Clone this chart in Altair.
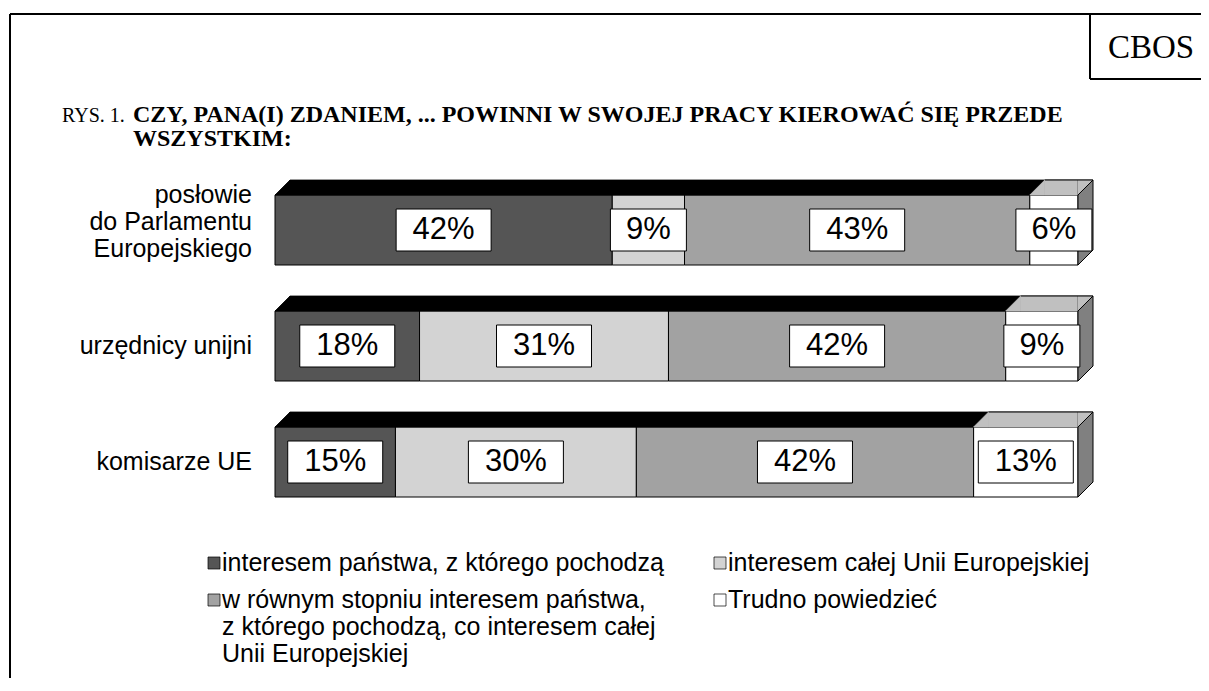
import altair as alt
import pandas as pd

# ---------------- data ----------------
categories = ["posłowie do Parlamentu Europejskiego", "urzędnicy unijni", "komisarze UE"]
category_lines = ["posłowie\ndo Parlamentu\nEuropejskiego", "urzędnicy unijni", "komisarze UE"]

series = [
    "interesem państwa, z którego pochodzą",
    "interesem całej Unii Europejskiej",
    "w równym stopniu interesem państwa, z którego pochodzą, co interesem całej Unii Europejskiej",
    "Trudno powiedzieć",
]
series_lines = [
    "interesem państwa, z którego pochodzą",
    "interesem całej Unii Europejskiej",
    "w równym stopniu interesem państwa,\nz którego pochodzą, co interesem całej\nUnii Europejskiej",
    "Trudno powiedzieć",
]

v_panstwa = [42, 18, 15]
v_unii = [9, 31, 30]
v_rowno = [43, 42, 42]
v_trudno = [6, 9, 13]

title_prefix = "RYS. 1."
title_lines = ["CZY, PANA(I) ZDANIEM, ... POWINNI W SWOJEJ PRACY KIEROWAĆ SIĘ PRZEDE", "WSZYSTKIM:"]
source = "CBOS"

# ---------------- styles ----------------
front_fill = ["#555555", "#d3d3d3", "#a2a2a2", "#ffffff"]
top_fill = ["#000000", "#000000", "#000000", "#c0c0c0"]
SANS = "Liberation Sans"
SERIF = "Liberation Serif"
CAT_LH = 27

values = [v_panstwa, v_unii, v_rowno, v_trudno]
rows = []
for ci, cat in enumerate(categories):
    start = 0
    for si, s in enumerate(series):
        v = values[si][ci]
        rows.append(dict(cat=cat, catlab=category_lines[ci], nlines=category_lines[ci].count("\n") + 1,
                         series=s, si=si, value=v, start=start, end=start + v,
                         mid=start + v / 2, label=f"{v}%", top=top_fill[si]))
        start += v
df = pd.DataFrame(rows)

# top faces: one black face over the whole bar, then the grey face of the last segment
top_rows = []
for ci, cat in enumerate(categories):
    total = sum(values[si][ci] for si in range(len(series)))
    top_rows.append(dict(cat=cat, start=0, end=total, top=top_fill[0]))
    last_v = values[-1][ci]
    top_rows.append(dict(cat=cat, start=total - last_v, end=total, top=top_fill[-1]))
tdf = pd.DataFrame(top_rows)

xscale = alt.Scale(domain=[0, 100], range=[267, 1070], nice=False, zero=False)
yscale = alt.Scale(domain=categories, range=[164, 512], paddingInner=0, paddingOuter=0)
Y = alt.Y("cat:N", scale=yscale, axis=None)
X = lambda f: alt.X(f, type="quantitative", scale=xscale, axis=None)

base = alt.Chart(df).encode(y=Y)
tbase = alt.Chart(tdf).encode(y=Y)

front = base.mark_bar(height=70, stroke="black", strokeWidth=1).encode(
    x=X("start"), x2="end",
    color=alt.Color("series:N", scale=alt.Scale(domain=series, range=front_fill), legend=None),
)

top_rect = tbase.mark_bar(height=15, yOffset=-42.5, xOffset=15, strokeWidth=0.8).encode(
    x=X("start"), x2="end",
    color=alt.Color("top:N", scale=None),
    stroke=alt.Stroke("top:N", scale=None),
)
tri_l = tbase.mark_point(shape="M-1,1L1,1L1,-1Z", size=225, filled=True, opacity=1,
                         strokeWidth=0.8, xOffset=7.5, yOffset=-42.5).encode(
    x=X("start"), color=alt.Color("top:N", scale=None), stroke=alt.Stroke("top:N", scale=None))
tri_r = tbase.mark_point(shape="M-1,1L-1,-1L1,-1Z", size=225, filled=True, opacity=1,
                         strokeWidth=0.8, xOffset=7.5, yOffset=-42.5).encode(
    x=X("end"), color=alt.Color("top:N", scale=None), stroke=alt.Stroke("top:N", scale=None))

last = base.transform_filter(alt.datum.si == len(series) - 1)
side = last.mark_point(
    shape="M-0.1765,-0.6471L0.1765,-1L0.1765,0.6471L-0.1765,1Z", size=7225,
    filled=True, opacity=1, fill="#808080", stroke="black", strokeWidth=1,
    xOffset=7.5, yOffset=-7.5).encode(x=X("end"))
top_edge = last.mark_rule(color="black", strokeWidth=1, xOffset=15, x2Offset=15, yOffset=-50).encode(
    x=X("start"), x2="end")

box3 = base.transform_filter("length(datum.label) == 3").mark_bar(
    height=42, xOffset=-47.5, x2Offset=47.5, fill="white", stroke="black", strokeWidth=1
).encode(x=X("mid"), x2="mid")
box2 = base.transform_filter("length(datum.label) == 2").mark_bar(
    height=42, xOffset=-38, x2Offset=38, fill="white", stroke="black", strokeWidth=1
).encode(x=X("mid"), x2="mid")
pct = base.mark_text(font=SANS, fontSize=31, color="black").encode(x=X("mid"), text="label:N")

# category labels: one layer per line count, shifted so the text block is centred on the bar
cat_layers = []
for n in sorted(set(df["nlines"])):
    shift = -(n - 1) * CAT_LH / 2 - (8 if n > 1 else 0)
    cat_layers.append(
        base.transform_filter((alt.datum.si == 0) & (alt.datum.nlines == n)).mark_text(
            font=SANS, fontSize=25, align="right", baseline="middle", lineBreak="\n",
            lineHeight=CAT_LH, dy=shift, color="black").encode(x=alt.value(244), text="catlab:N"))

# ---------------- legend (custom) ----------------
leg_sq = [(206, 555), (712, 555), (206, 592), (712, 592)]
leg_tx = [(214, 563), (720, 563), (214, 600), (720, 600)]
leg = pd.DataFrame(dict(
    label=series_lines, fill=front_fill,
    sx=[p[0] for p in leg_sq], sy=[p[1] for p in leg_sq],
    tx=[p[0] for p in leg_tx], ty=[p[1] for p in leg_tx],
))
leg_sym = alt.Chart(leg).mark_point(shape="square", size=144, filled=True, opacity=1,
                                    stroke="black", strokeWidth=0.7).encode(
    x=alt.X("sx:Q", scale=None), y=alt.Y("sy:Q", scale=None),
    color=alt.Color("fill:N", scale=None))
leg_txt = alt.Chart(leg).mark_text(font=SANS, fontSize=25, align="left", baseline="alphabetic",
                                   lineBreak="\n", lineHeight=27, color="black").encode(
    x=alt.X("tx:Q", scale=None), y=alt.Y("ty:Q", scale=None), text="label:N")

# ---------------- frame & titles ----------------
frame = pd.DataFrame(dict(x=[2, 2, 1082, 1082], x2=[2, 1200, 1082, 1200],
                          y=[6, 6, 6, 71], y2=[680, 6, 71, 71]))
frame_rules = alt.Chart(frame).mark_rule(color="black", strokeWidth=2).encode(
    x=alt.X("x:Q", scale=None), x2="x2:Q", y=alt.Y("y:Q", scale=None), y2="y2:Q")

cbos = alt.Chart(pd.DataFrame({"t": [source]})).mark_text(
    font=SERIF, fontSize=33, align="center", baseline="middle", color="black").encode(
    x=alt.value(1143), y=alt.value(40), text="t:N")
rys = alt.Chart(pd.DataFrame({"t": [title_prefix]})).mark_text(
    font=SERIF, fontSize=20, align="left", baseline="alphabetic", color="black").encode(
    x=alt.value(54), y=alt.value(114), text="t:N")
ttl = alt.Chart(pd.DataFrame({"t": title_lines, "y": [114, 138]})).mark_text(
    font=SERIF, fontSize=24, fontWeight="bold", align="left", baseline="alphabetic",
    color="black").encode(x=alt.value(125), y=alt.Y("y:Q", scale=None), text="t:N")

chart = alt.layer(
    frame_rules, cbos, rys, ttl,
    front, top_rect, tri_l, tri_r, top_edge, side,
    box3, box2, pct, *cat_layers, leg_sym, leg_txt,
).properties(width=1193, height=670, padding=0, autosize="none").configure_view(stroke=None)

chart.save("out.html", embed_options={"renderer": "svg", "actions": False})
